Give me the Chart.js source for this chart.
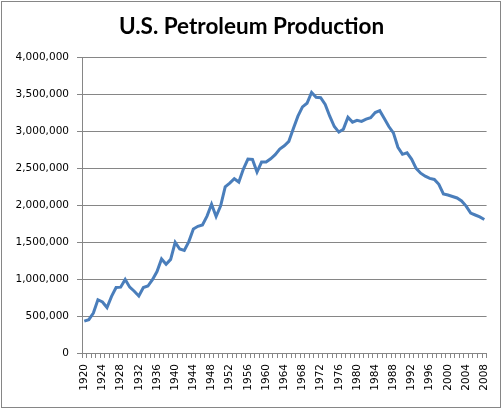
<!DOCTYPE html>
<html>
<head>
<meta charset="utf-8">
<script src="https://cdn.jsdelivr.net/npm/chart.js@4"></script>
<style>
  html, body { margin: 0; padding: 0; background: #fff; }
  #wrap { position: relative; width: 503px; height: 410px; }
  #frame { position: absolute; left: 1px; top: 1px; width: 498px; height: 405px; border: 1px solid #868686; pointer-events: none; }
</style>
</head>
<body>
<div id="wrap">
  <canvas id="chart" width="503" height="410"></canvas>
  <div id="frame"></div>
</div>
<script>
const years = [
  1920, 1921, 1922, 1923, 1924, 1925, 1926, 1927, 1928, 1929,
  1930, 1931, 1932, 1933, 1934, 1935, 1936, 1937, 1938, 1939,
  1940, 1941, 1942, 1943, 1944, 1945, 1946, 1947, 1948, 1949,
  1950, 1951, 1952, 1953, 1954, 1955, 1956, 1957, 1958, 1959,
  1960, 1961, 1962, 1963, 1964, 1965, 1966, 1967, 1968, 1969,
  1970, 1971, 1972, 1973, 1974, 1975, 1976, 1977, 1978, 1979,
  1980, 1981, 1982, 1983, 1984, 1985, 1986, 1987, 1988, 1989,
  1990, 1991, 1992, 1993, 1994, 1995, 1996, 1997, 1998, 1999,
  2000, 2001, 2002, 2003, 2004, 2005, 2006, 2007, 2008
];

const production = [
  430000, 450000, 540000, 720000, 690000, 615000, 765000, 885000, 890000, 995000,
  890000, 835000, 770000, 885000, 905000, 990000, 1100000, 1270000, 1200000, 1265000,
  1495000, 1405000, 1385000, 1505000, 1675000, 1712000, 1730000, 1850000, 2010000, 1845000,
  1990000, 2245000, 2295000, 2355000, 2310000, 2485000, 2620000, 2615000, 2445000, 2580000,
  2580000, 2625000, 2680000, 2755000, 2800000, 2860000, 3035000, 3200000, 3325000, 3375000,
  3520000, 3455000, 3450000, 3360000, 3200000, 3060000, 2985000, 3025000, 3185000, 3120000,
  3145000, 3130000, 3160000, 3180000, 3250000, 3275000, 3170000, 3060000, 2975000, 2780000,
  2685000, 2705000, 2620000, 2495000, 2430000, 2390000, 2360000, 2345000, 2280000, 2150000,
  2135000, 2115000, 2095000, 2055000, 1985000, 1890000, 1865000, 1840000, 1805000
];

const labeledYears = [
  1920, 1924, 1928, 1932, 1936, 1940, 1944, 1948, 1952, 1956, 1960, 1964,
  1968, 1972, 1976, 1980, 1984, 1988, 1992, 1996, 2000, 2004, 2008
];

const axisGray = '#868686';
const tickFont = { family: "'DejaVu Sans', Verdana, sans-serif", size: 10.5 };

new Chart(document.getElementById('chart'), {
  type: 'line',
  data: {
    labels: years,
    datasets: [{
      label: 'U.S. Petroleum Production',
      data: production,
      borderColor: '#4A7EBB',
      borderWidth: 3,
      pointRadius: 0,
      tension: 0,
      fill: false
    }]
  },
  options: {
    responsive: false,
    animation: false,
    layout: { padding: 0 },
    plugins: {
      legend: { display: false },
      tooltip: { enabled: false },
      title: {
        display: true,
        text: 'U.S. Petroleum Production',
        color: '#000',
        font: { family: 'Lato', size: 22.5, weight: 'bold', lineHeight: 1.2 },
        padding: { top: 13, bottom: 17 }
      }
    },
    scales: {
      x: {
        type: 'category',
        offset: true,
        afterFit: (scale) => { scale.height = 57; },
        grid: {
          offset: true,
          drawOnChartArea: false,
          drawTicks: true,
          tickLength: 5,
          color: axisGray
        },
        border: { color: axisGray },
        ticks: {
          autoSkip: false,
          minRotation: 90,
          maxRotation: 90,
          padding: 6,
          color: '#000',
          font: tickFont,
          callback: function (value) {
            const yr = this.getLabelForValue(value);
            return labeledYears.includes(Number(yr)) ? String(yr) : '';
          }
        }
      },
      y: {
        min: 0,
        max: 4000000,
        afterFit: (scale) => { scale.width = 82; },
        grid: { color: axisGray, tickLength: 5 },
        border: { color: axisGray },
        ticks: {
          stepSize: 500000,
          padding: 8,
          color: '#000',
          font: tickFont,
          callback: (v) => v.toLocaleString('en-US')
        }
      },
      // empty right-hand gutter so the title centres on the whole frame
      gutter: {
        position: 'right',
        min: 0,
        max: 1,
        afterFit: (scale) => { scale.width = 16; },
        grid: { display: false },
        border: { display: false },
        ticks: { display: false }
      }
    }
  },
  plugins: [{
    id: 'whiteBg',
    beforeDraw: (chart) => {
      const ctx = chart.ctx;
      ctx.save();
      ctx.fillStyle = '#fff';
      ctx.fillRect(0, 0, chart.width, chart.height);
      ctx.restore();
    }
  }]
});
</script>
</body>
</html>
